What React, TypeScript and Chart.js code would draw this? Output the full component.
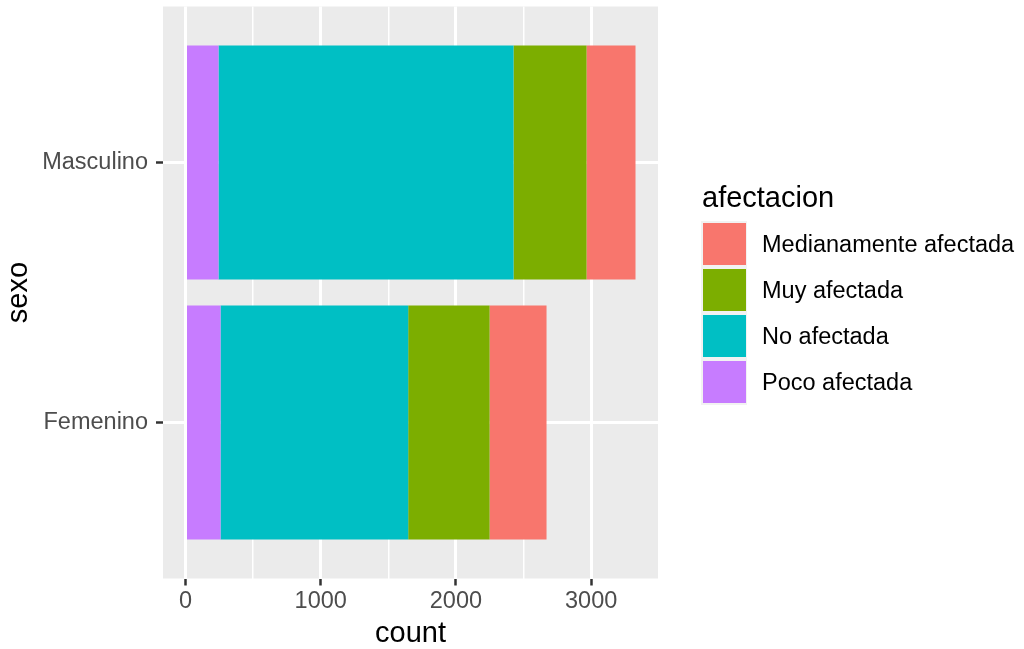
import React, { useEffect, useRef } from 'react';
import { Chart, registerables } from 'chart.js';

Chart.register(...registerables);

const sexoLabels = ['Femenino', 'Masculino'];
const sexoPositions = [1, 2];
const pocoAfectada = [259, 244];
const noAfectada = [1388, 2182];
const muyAfectada = [602, 540];
const medianamenteAfectada = [421, 362];
const xTickValues = [0, 500, 1000, 1500, 2000, 2500, 3000];
const legendNames = ['Medianamente afectada', 'Muy afectada', 'No afectada', 'Poco afectada'];
const legendColors = ['#F8766D', '#7CAE00', '#00BFC4', '#C77CFF'];

const FONT = '"Liberation Sans", Arial, Helvetica, sans-serif';

const panelBg = {
  id: 'panelBg',
  beforeDraw(chart: any) {
    const { ctx, chartArea: a } = chart;
    ctx.save();
    ctx.fillStyle = '#EBEBEB';
    ctx.fillRect(a.left, a.top, a.right - a.left, a.bottom - a.top);
    ctx.restore();
  },
};

export default function App() {
  const ref = useRef<HTMLCanvasElement | null>(null);

  useEffect(() => {
    if (!ref.current) return;
    const totals = sexoPositions.map(
      (_, i) => pocoAfectada[i] + noAfectada[i] + muyAfectada[i] + medianamenteAfectada[i]
    );
    const maxTotal = Math.max(...totals);
    const mk = (vals: number[]) => sexoPositions.map((p, i) => ({ x: vals[i], y: p }));
    const stackOrder = [
      { label: 'Poco afectada', data: mk(pocoAfectada), color: '#C77CFF' },
      { label: 'No afectada', data: mk(noAfectada), color: '#00BFC4' },
      { label: 'Muy afectada', data: mk(muyAfectada), color: '#7CAE00' },
      { label: 'Medianamente afectada', data: mk(medianamenteAfectada), color: '#F8766D' },
    ];
    const chart = new Chart(ref.current, {
      type: 'bar',
      data: {
        datasets: stackOrder.map((d) => ({
          label: d.label,
          data: d.data as any,
          backgroundColor: d.color,
          borderWidth: 0,
          barPercentage: 0.9,
          categoryPercentage: 1.0,
        })),
      },
      options: {
        indexAxis: 'y',
        responsive: false,
        animation: false,
        events: [],
        layout: { padding: { top: 6.5, right: 366, bottom: 0, left: 0 } },
        plugins: { legend: { display: false }, tooltip: { enabled: false } },
        scales: {
          x: {
            type: 'linear',
            stacked: true,
            min: -0.05 * maxTotal,
            max: 1.05 * maxTotal,
            afterBuildTicks: (s: any) => {
              s.ticks = xTickValues.map((v) => ({ value: v }));
            },
            afterFit: (s: any) => {
              s.height = 70.5;
              s.paddingLeft = 0;
              s.paddingRight = 0;
            },
            ticks: {
              autoSkip: false,
              maxRotation: 0,
              color: '#4D4D4D',
              font: { family: FONT, size: 23.5 },
              padding: 2,
              callback: (v: any) => (Number(v) % 1000 === 0 ? String(v) : ''),
            },
            grid: {
              color: '#FFFFFF',
              lineWidth: (c: any) => (c.tick && c.tick.value % 1000 === 0 ? 3 : 1.5),
              drawTicks: true,
              tickLength: 7,
              tickColor: (c: any) => (c.tick && c.tick.value % 1000 === 0 ? '#333333' : 'rgba(0,0,0,0)'),
              tickWidth: 2.5,
            },
            border: { display: false },
            title: {
              display: true,
              text: 'count',
              color: '#000000',
              font: { family: FONT, size: 29, lineHeight: 1 },
              padding: { top: 0, bottom: 0.5 },
            },
          },
          y: {
            type: 'linear',
            stacked: true,
            offset: false,
            min: 0.4,
            max: 2.6,
            afterBuildTicks: (s: any) => {
              s.ticks = sexoPositions.map((v) => ({ value: v }));
            },
            afterFit: (s: any) => {
              s.width = 163;
              s.paddingTop = 0;
              s.paddingBottom = 0;
            },
            ticks: {
              autoSkip: false,
              color: '#4D4D4D',
              font: { family: FONT, size: 23.5 },
              padding: 8,
              callback: (v: any) => {
                const i = sexoPositions.indexOf(Number(v));
                return i >= 0 ? sexoLabels[i] : '';
              },
            },
            grid: {
              offset: false,
              color: '#FFFFFF',
              lineWidth: 3,
              drawTicks: true,
              tickLength: 7,
              tickColor: '#333333',
              tickWidth: 2.5,
            },
            border: { display: false },
            title: {
              display: true,
              text: 'sexo',
              color: '#000000',
              font: { family: FONT, size: 29, lineHeight: 1 },
              padding: { top: 4.5, bottom: 0 },
            },
          },
        },
      } as any,
      plugins: [panelBg],
    });
    return () => chart.destroy();
  }, []);

  return (
    <div style={{ position: 'fixed', left: 0, top: 0, width: 1024, height: 649, background: '#FFFFFF' }}>
      <canvas ref={ref} width={1024} height={649} style={{ display: 'block', width: 1024, height: 649 }} />
      <div
        style={{
          position: 'absolute',
          left: 702,
          top: 182.5,
          fontFamily: FONT,
          fontSize: 29,
          lineHeight: '29px',
          color: '#000000',
          whiteSpace: 'nowrap',
        }}
      >
        afectacion
      </div>
      {legendNames.map((name, i) => (
        <div
          key={name}
          style={{ position: 'absolute', left: 701, top: 221 + i * 46, height: 46, display: 'flex', alignItems: 'center' }}
        >
          <div style={{ width: 46, height: 46, background: '#F2F2F2', position: 'relative' }}>
            <div
              style={{ position: 'absolute', left: 1.5, top: 1.75, width: 43, height: 42.5, background: legendColors[i] }}
            />
          </div>
          <span
            style={{
              marginLeft: 15,
              fontFamily: FONT,
              fontSize: 23.5,
              lineHeight: '46px',
              color: '#000000',
              whiteSpace: 'nowrap',
            }}
          >
            {name}
          </span>
        </div>
      ))}
    </div>
  );
}
